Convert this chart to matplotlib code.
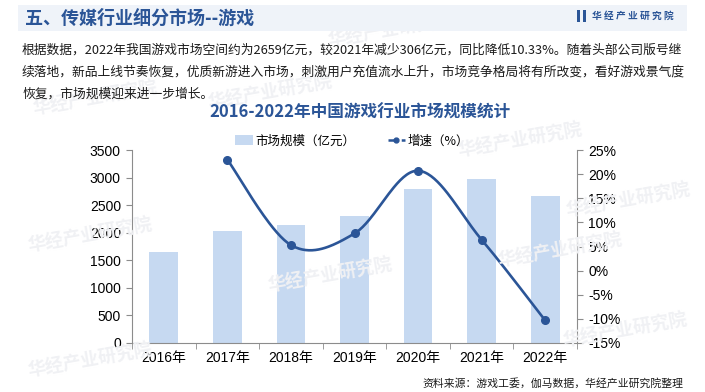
import matplotlib
matplotlib.use("Agg")
import matplotlib.pyplot as plt
import numpy as np
from matplotlib.patches import Rectangle
from matplotlib.lines import Line2D
from matplotlib.ticker import MultipleLocator, FuncFormatter

plt.rcParams['font.family'] = ['Noto Sans CJK SC', 'DejaVu Sans']

years = ['2016年', '2017年', '2018年', '2019年', '2020年', '2021年', '2022年']
market_size = [1655.7, 2036.1, 2144.4, 2308.8, 2786.9, 2965.1, 2658.8]
growth_years_idx = [1, 2, 3, 4, 5, 6]
growth = [23.0, 5.3, 7.7, 20.7, 6.4, -10.33]

title_main = '五、传媒行业细分市场--游戏'
chart_title = '2016-2022年中国游戏行业市场规模统计'
body_lines = [
    '根据数据，2022年我国游戏市场空间约为2659亿元，较2021年减少306亿元，同比降低10.33%。随着头部公司版号继',
    '续落地，新品上线节奏恢复，优质新游进入市场，刺激用户充值流水上升，市场竞争格局将有所改变，看好游戏景气度',
    '恢复，市场规模迎来进一步增长。',
]
source = '资料来源：游戏工委，伽马数据，华经产业研究院整理'

BLUE = '#2b5597'
BAR = '#c6d9f1'
W, H = 705, 392
fig = plt.figure(figsize=(W / 100, H / 100), dpi=100)

def fx(px):
    return px / W

def fy(py):
    return 1 - py / H

# watermarks
for (x, y) in [(390, 30), (95, 98), (270, 92), (520, 140), (90, 235), (90, 360), (330, 275), (560, 250), (625, 330), (628, 200)]:
    fig.text(fx(x), fy(y), '华经产业研究院', fontsize=13, fontweight='bold', color='#f0f1f4',
             rotation=10, ha='center', va='center', zorder=0)

# header band
fig.patches.append(Rectangle((fx(18), fy(31)), fx(687) - fx(18), fy(5) - fy(31),
                             transform=fig.transFigure, facecolor='#eff3f9', edgecolor='none', zorder=1))
fig.text(fx(25), fy(18), title_main, fontsize=13, fontweight='bold', color=BLUE, va='center', ha='left', zorder=2)
fig.patches.append(Rectangle((fx(577), fy(22)), fx(3), 12 / H,
                             transform=fig.transFigure, facecolor=BLUE, edgecolor='none', zorder=2))
fig.patches.append(Rectangle((fx(583), fy(22)), fx(3), 12 / H,
                             transform=fig.transFigure, facecolor=BLUE, edgecolor='none', zorder=2))
fig.text(fx(592), fy(16), '华 经 产 业 研 究 院', fontsize=7, fontweight='bold', color=BLUE,
         va='center', ha='left', zorder=2)

# body text
for i, line in enumerate(body_lines):
    fig.text(fx(22), fy(50 + 22 * i), line, fontsize=9.2, color='#1a1a1a', va='center', ha='left', zorder=2)

fig.text(fx(360), fy(113), chart_title, fontsize=12, fontweight='bold', color=BLUE,
         va='center', ha='center', zorder=2)

# axes
ax = fig.add_axes([fx(132), fy(343), fx(577) - fx(132), fy(150) - fy(343)])
ax.set_facecolor('none')
x = np.arange(len(years))
ax.bar(x, market_size, width=0.45, color=BAR, zorder=2)
ax.set_xlim(-0.5, len(years) - 0.5)
ax.set_ylim(0, 3500)
ax.yaxis.set_major_locator(MultipleLocator(500))
for s in ['top', 'right']:
    ax.spines[s].set_visible(False)
for s in ['left', 'bottom']:
    ax.spines[s].set_color('#8c8c8c')
    ax.spines[s].set_linewidth(0.8)
ax.set_xticks(x)
ax.set_xticklabels(years, fontsize=10, family=['Liberation Sans', 'Noto Sans CJK SC'])
ax.tick_params(axis='x', length=0, pad=6)
ax.set_xticks(np.arange(-0.5, len(years), 1), minor=True)
ax.tick_params(axis='x', which='minor', length=4, color='#8c8c8c', direction='out')
ax.tick_params(axis='y', length=4, color='#8c8c8c', labelsize=10, pad=4)
for lab in ax.get_yticklabels():
    lab.set_family(['Liberation Sans'])

ax2 = ax.twinx()
ax2.set_ylim(-15, 25)
ax2.yaxis.set_major_locator(MultipleLocator(5))
ax2.yaxis.set_major_formatter(FuncFormatter(lambda v, p: f'{int(round(v))}%'))
for s in ['top', 'left', 'bottom']:
    ax2.spines[s].set_visible(False)
ax2.spines['right'].set_color('#8c8c8c')
ax2.spines['right'].set_linewidth(0.8)
ax2.tick_params(axis='y', length=4, color='#8c8c8c', labelsize=10, pad=4)
for lab in ax2.get_yticklabels():
    lab.set_family(['Liberation Sans'])

# smoothed growth line (Catmull-Rom Bezier)
P = np.column_stack([np.array(growth_years_idx, float), np.array(growth, float)])
n = len(P)
curve = []
t = np.linspace(0, 1, 40)
for i in range(n - 1):
    p0 = P[i - 1] if i > 0 else P[i]
    p1 = P[i]
    p2 = P[i + 1]
    p3 = P[i + 2] if i + 2 < n else P[i + 1]
    c1 = p1 + (p2 - p0) / 6
    c2 = p2 - (p3 - p1) / 6
    seg = ((1 - t) ** 3)[:, None] * p1 + (3 * (1 - t) ** 2 * t)[:, None] * c1 + \
          (3 * (1 - t) * t ** 2)[:, None] * c2 + (t ** 3)[:, None] * p2
    curve.append(seg)
curve = np.vstack(curve)
ax2.plot(curve[:, 0], curve[:, 1], color=BLUE, lw=1.9, zorder=3, solid_capstyle='round')
ax2.plot(P[:, 0], P[:, 1], 'o', color=BLUE, ms=5.5, zorder=4)

# legend
handles = [Rectangle((0, 0), 1, 1, facecolor=BAR, edgecolor='none'),
           Line2D([0], [0], color=BLUE, lw=1.8, ls='--', marker='o', ms=3.5)]
fig.legend(handles, ['市场规模（亿元）', '增速（%）'], loc='center', bbox_to_anchor=(fx(352), fy(141)),
           ncol=2, frameon=False, fontsize=9, handlelength=1.4, handleheight=0.8, columnspacing=2.6,
           handletextpad=0.2)

fig.text(fx(683), fy(383), source, fontsize=7.8, color='#1a1a1a', ha='right', va='center')

fig.savefig('out.png', dpi=100)
